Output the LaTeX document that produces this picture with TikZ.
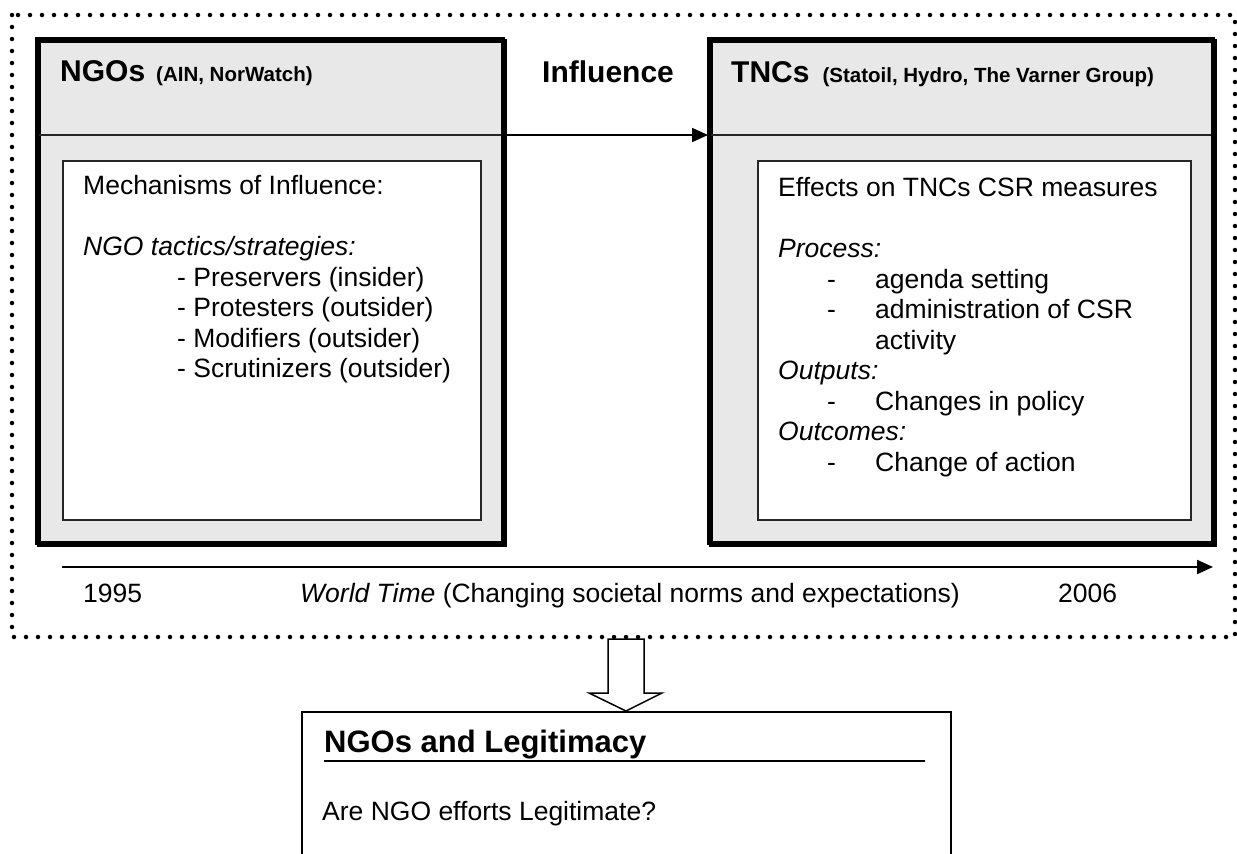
\documentclass[tikz,border=0pt]{standalone}
\usepackage{fontspec}
\setmainfont{Liberation Sans}
\usetikzlibrary{arrows.meta}
\definecolor{boxgray}{RGB}{232,232,232}
\begin{document}
\begin{tikzpicture}[x=1pt,y=-1pt,
  txt/.style={anchor=base west, inner sep=0pt, font=\fontsize{26.5}{30}\selectfont},
  outerbox/.style={draw=black, line width=3.5pt, fill=boxgray, anchor=north west, inner sep=0pt},
  innerbox/.style={draw=black!85, line width=1.6pt, fill=white, anchor=north west, inner sep=0pt},
  bigb/.style={font=\fontsize{30}{30}\selectfont\bfseries},
  dotline/.style={line width=4.5pt, line cap=round, dash pattern=on 0pt off 12pt},
  tip/.style={-{Triangle[length=16pt,width=14pt]}}
]
\useasboundingbox (0,0) rectangle (1237,854);

% down arrow (drawn before dotted frame so dots stay visible)
\draw[fill=white, line width=1.5pt, line join=miter] (608,639) -- (608,693) -- (589,693) -- (626,711) -- (662,693) -- (644,693) -- (644,639) -- cycle;

% dotted frame
\draw[dotline] (12,15) rectangle (1235,637);

% NGO box
\node[outerbox, minimum width=466pt, minimum height=504pt] (ngo) at (37,39) {};
\coordinate (ngoHL) at (37,135);
\coordinate (ngoHR) at (503,135);
\draw[line width=1.5pt, draw=black!85] (ngoHL) -- (ngoHR);
\node[innerbox, minimum width=418pt, minimum height=359pt] (ngoin) at (62,160) {};
\draw[line width=3.5pt] (37,39) rectangle (503,543);

% TNC box
\node[outerbox, minimum width=504pt, minimum height=504pt] (tnc) at (709,39) {};
\coordinate (tncHL) at (709,135);
\coordinate (tncHR) at (1213,135);
\draw[line width=1.5pt, draw=black!85] (tncHL) -- (tncHR);
\node[innerbox, minimum width=433pt, minimum height=359pt] (tncin) at (757,160) {};
\draw[line width=3.5pt] (709,39) rectangle (1213,543);

% headers
\node[anchor=base west, inner sep=0pt] (ngotitle) at (60,81)
  {{\fontsize{30}{30}\selectfont\bfseries NGOs}\hspace{11pt}{\fontsize{20.5}{20.5}\selectfont\bfseries (AIN, NorWatch)}};
\node[anchor=base west, inner sep=0pt] (tnctitle) at (731,82)
  {{\fontsize{30}{30}\selectfont\bfseries TNCs}\hspace{13pt}{\fontsize{20.5}{20.5}\selectfont\bfseries (Statoil, Hydro, The Varner Group)}};
\node[anchor=base west, inner sep=0pt, bigb] (infl) at (542,82) {Influence};

% influence arrow
\draw[line width=1.8pt, tip] (ngoHR) -- ([xshift=-1pt]tncHL);

% NGO inner text
\node[txt] (m1) at (83,194) {Mechanisms of Influence:};
\node[txt] (m2) at (83,255) {\itshape NGO tactics/strategies:};
\node[txt] (m3) at (177,286) {- Preservers (insider)};
\node[txt] (m4) at (177,316) {- Protesters (outsider)};
\node[txt] (m5) at (177,347) {- Modifiers (outsider)};
\node[txt] (m6) at (177,377) {- Scrutinizers (outsider)};

% TNC inner text
\node[txt] (e1) at (778,196) {Effects on TNCs CSR measures};
\node[txt] (e2) at (778,257) {\itshape Process:};
\node[txt] (d1) at (827,288) {-};
\node[txt] (e3) at (875,288) {agenda setting};
\node[txt] (d2) at (827,318) {-};
\node[txt] (e4) at (875,318) {administration of CSR};
\node[txt] (e5) at (875,349) {activity};
\node[txt] (e6) at (778,379) {\itshape Outputs:};
\node[txt] (d3) at (827,410) {-};
\node[txt] (e7) at (875,410) {Changes in policy};
\node[txt] (e8) at (778,440) {\itshape Outcomes:};
\node[txt] (d4) at (827,471) {-};
\node[txt] (e9) at (875,471) {Change of action};

% timeline
\coordinate (t0) at (62,567);
\coordinate (t1) at (182,567);
\coordinate (t2) at (1213,567);
\draw[line width=1.3pt] (t0) -- (t1);
\draw[line width=2.2pt, tip] (t1) -- (t2);
\node[txt] (y1) at (83,602) {1995};
\node[txt] (wt) at (300,602) {\itshape World Time\upshape\ (Changing societal norms and expectations)};
\node[txt] (y2) at (1058,602) {2006};

% bottom box
\node[draw, line width=1.5pt, fill=none, anchor=north west, inner sep=0pt, minimum width=649pt, minimum height=200pt] (legit) at (301,711) {};
\node[anchor=base west, inner sep=0pt, font=\fontsize{31}{31}\selectfont\bfseries] (legt) at (324,752) {NGOs and Legitimacy};
\coordinate (ul0) at (324,761);
\coordinate (ul1) at (925,761);
\draw[line width=1.5pt] (ul0) -- (ul1);
\node[txt] (q) at (322,820) {Are NGO efforts Legitimate?};
\end{tikzpicture}
\end{document}
